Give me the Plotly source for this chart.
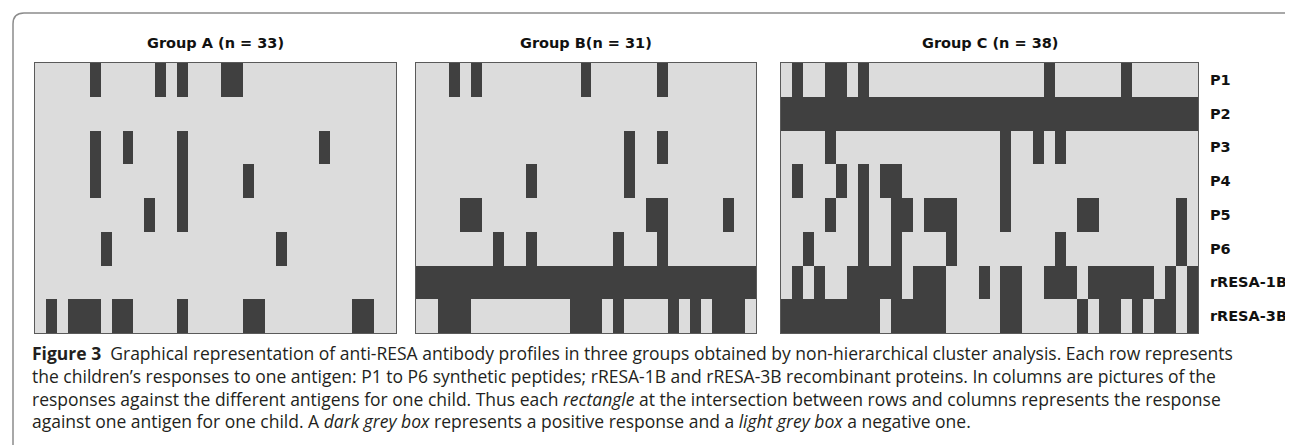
import plotly.graph_objects as go

# ---------------- data ----------------
antigens = ["P1", "P2", "P3", "P4", "P5", "P6", "rRESA-1B", "rRESA-3B"]
group_titles = ["Group A (n = 33)", "Group B(n = 31)", "Group C (n = 38)"]
group_sizes = [33, 31, 38]

# column indices (children) with a positive response, one list per antigen row
group_a_positive = [
    [5, 11, 13, 17, 18],
    [],
    [5, 8, 13, 26],
    [5, 13, 19],
    [10, 13],
    [6, 22],
    [],
    [1, 3, 4, 5, 7, 8, 13, 19, 20, 29, 30],
]
group_b_positive = [
    [3, 5, 15, 22],
    [],
    [19, 22],
    [10, 19],
    [4, 5, 21, 22, 28],
    [7, 10, 18, 22],
    [0, 1, 2, 3, 4, 5, 6, 7, 8, 9, 10, 11, 12, 13, 14, 15, 16, 17, 18, 19, 20,
     21, 22, 23, 24, 25, 26, 27, 28, 29, 30],
    [2, 3, 4, 14, 15, 16, 18, 23, 25, 27, 28, 29],
]
group_c_positive = [
    [1, 4, 5, 7, 24, 31],
    [0, 1, 2, 3, 4, 5, 6, 7, 8, 9, 10, 11, 12, 13, 14, 15, 16, 17, 18, 19, 20,
     21, 22, 23, 24, 25, 26, 27, 28, 29, 30, 31, 32, 33, 34, 35, 36, 37],
    [4, 20, 23, 25],
    [1, 5, 7, 9, 10, 20],
    [4, 7, 10, 11, 13, 14, 15, 20, 27, 28, 36],
    [2, 7, 10, 15, 25, 36],
    [1, 3, 6, 7, 8, 9, 10, 12, 13, 14, 18, 20, 21, 24, 25, 26, 28, 29, 30, 31,
     32, 33, 35, 37],
    [0, 1, 2, 3, 4, 5, 6, 7, 8, 10, 11, 12, 13, 14, 20, 21, 27, 29, 30, 32, 34,
     35, 37],
]

caption_lines = [
    "<b>Figure 3</b>  Graphical representation of anti-RESA antibody profiles in three groups obtained by non-hierarchical cluster analysis. Each row represents",
    "the children’s responses to one antigen: P1 to P6 synthetic peptides; rRESA-1B and rRESA-3B recombinant proteins. In columns are pictures of the",
    "responses against the different antigens for one child. Thus each <i>rectangle</i> at the intersection between rows and columns represents the response",
    "against one antigen for one child. A <i>dark grey box</i> represents a positive response and a <i>light grey box</i> a negative one.",
]

# ---------------- layout helpers ----------------
W, H = 1293, 445
def px(x):
    return x / W
def py(y):
    return 1 - y / H

panels_px = [(27, 388), (408, 748), (773, 1190)]
top_px, bottom_px = 55, 325
DARK, LIGHT = "#404040", "#dcdcdc"
colorscale = [[0, LIGHT], [0.5, LIGHT], [0.5, DARK], [1, DARK]]

fig = go.Figure()
all_groups = [group_a_positive, group_b_positive, group_c_positive]
layout_axes = {}
for i, (n, positives, (x0, x1)) in enumerate(zip(group_sizes, all_groups, panels_px)):
    suffix = "" if i == 0 else str(i + 1)
    z = [[1 if c in row else 0 for c in range(n)] for row in positives]
    fig.add_trace(go.Heatmap(
        z=z, x=list(range(n)), y=antigens,
        xaxis="x" + suffix, yaxis="y" + suffix,
        colorscale=colorscale, zmin=0, zmax=1, showscale=False,
        hoverinfo="skip",
    ))
    layout_axes["xaxis" + suffix] = dict(
        domain=[px(x0), px(x1)], range=[-0.5, n - 0.5], anchor="y" + suffix,
        showticklabels=False, ticks="", showgrid=False, zeroline=False,
        showline=True, mirror=True, linecolor="#5a5a5a", linewidth=1,
    )
    yax = dict(
        domain=[py(bottom_px), py(top_px)], anchor="x" + suffix,
        autorange="reversed", showgrid=False, zeroline=False, ticks="",
        showline=True, mirror=True, linecolor="#5a5a5a", linewidth=1,
        showticklabels=False,
    )
    if i == 2:
        yax.update(side="right", showticklabels=True, ticklabelstandoff=8,
                   tickfont=dict(family="DejaVu Sans", size=14.5, color="#111",
                                 weight="bold"))
    layout_axes["yaxis" + suffix] = yax

annotations = []
for title, (x0, x1) in zip(group_titles, panels_px):
    annotations.append(dict(
        text=title, xref="paper", yref="paper", x=px((x0 + x1) / 2), y=py(35),
        xanchor="center", yanchor="middle", showarrow=False,
        font=dict(family="DejaVu Sans", size=14.5, color="#111", weight="bold"),
    ))

annotations.append(dict(
    text="<br>".join(caption_lines), xref="paper", yref="paper",
    x=px(22), y=py(331), xanchor="left", yanchor="top", showarrow=False,
    align="left", font=dict(family="Open Sans", size=17.5, color="#231f20"),
))

border_path = (
    f"M {px(5)},{py(470)} L {px(5)},{py(16)} Q {px(5)},{py(5)} {px(16)},{py(5)} "
    f"L {px(1277)},{py(5)} Q {px(1288)},{py(5)} {px(1288)},{py(16)} L {px(1288)},{py(470)}"
)

fig.update_layout(
    width=W, height=H, margin=dict(l=0, r=0, t=0, b=0),
    paper_bgcolor="white", plot_bgcolor="white",
    annotations=annotations,
    shapes=[dict(type="path", xref="paper", yref="paper", path=border_path,
                 line=dict(color="#8c8c8c", width=1.5), layer="above")],
    **layout_axes,
)

fig.write_html("out.html")
